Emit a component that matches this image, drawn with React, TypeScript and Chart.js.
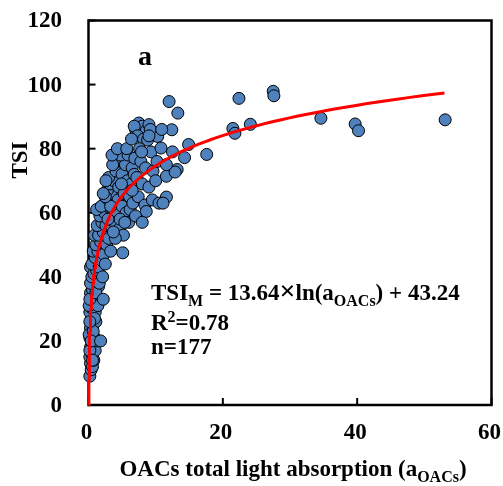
import React, { useEffect, useRef } from "react";
import { Chart, registerables } from "chart.js";

Chart.register(...registerables);

// Observed samples: [aOACs, TSI]
const pointsX: number[] = [
  0.2, 0.4, 0.3, 0.6, 0.2, 0.5, 0.8, 0.3, 0.6, 1.0, 0.2, 0.5, 0.9, 1.3, 0.3, 0.7, 0.4, 1.1, 0.2, 0.6,
  1.0, 0.4, 0.8, 0.3, 1.2, 0.6, 0.9, 0.3, 1.5, 0.5, 0.1, 0.1, 0.2, 0.7, 1.4, 0.4, 0.9, 0.2, 0.6, 1.8,
  0.3, 0.2, 1.1, 2.2,
  0.8, 1.2, 0.5, 1.6, 1.0, 2.0, 0.7, 1.4, 2.3, 1.1, 1.8, 2.7, 0.9, 1.5, 2.2, 3.0, 1.3, 2.0, 2.6, 1.7,
  2.4, 3.2, 1.2, 2.8, 1.9, 3.5, 2.5, 1.6, 2.1, 3.3,
  3.0, 3.6, 4.2, 3.9, 4.6, 5.2, 4.0, 3.4, 4.4, 5.0, 5.6, 6.0, 2.8, 3.2, 3.8, 4.5, 5.3, 6.1, 3.0, 4.1,
  5.0, 5.8, 6.4, 4.2, 5.5, 3.6, 4.8, 5.9, 6.5, 3.3, 4.7, 5.4, 6.2, 2.9, 2.5, 4.9, 3.7, 6.6, 5.1, 2.6,
  3.5, 4.3, 5.7, 2.2, 6.8,
  7.0, 7.5, 8.0, 8.6, 9.0, 6.8, 7.3, 8.2, 8.8, 6.4, 7.6, 9.3, 10.3, 10.8, 6.9, 7.8, 8.5, 9.6, 10.2, 7.2,
  8.0, 9.0, 10.0, 7.4, 8.4, 8.6, 9.5, 10.5, 7.0, 8.0, 6.5, 9.2, 9.0, 7.9,
  11.6, 11.6, 11.1, 12.0, 13.3, 12.4, 14.9, 14.3, 13.2, 12.9, 11.6, 12.5, 10.9,
  17.6, 22.4, 21.5, 21.8, 24.1, 27.5, 27.6, 34.6, 39.7, 40.2, 53.1,
];
const pointsY: number[] = [
  9, 11, 13, 12, 15, 16, 14, 18, 19, 17, 21, 22, 21, 20, 24, 25, 27, 26, 29, 30,
  29, 32, 33, 35, 34, 36, 38, 38, 37, 40, 31, 22, 17, 23, 31, 20, 27, 33, 14, 20,
  43, 26, 35, 33,
  41, 42, 44, 43, 46, 45, 48, 48, 47, 50, 51, 50, 53, 53, 54, 52, 56, 57, 56, 59,
  60, 58, 61, 62, 62, 55, 44, 38, 40, 48,
  64, 61, 60, 57, 55, 53, 52, 66, 64, 62, 60, 57, 67, 69, 70, 68, 66, 65, 71, 73,
  72, 70, 69, 76, 75, 75, 78, 78, 74, 62, 58, 57, 61, 58, 65, 69, 54, 63, 47.5, 70,
  78, 80, 80, 66, 72,
  86, 88, 87, 85.6, 87.5, 87, 84, 83, 82.7, 83, 80, 79, 83.8, 80.2, 77, 76, 74, 73, 76, 71,
  69, 68, 70, 65, 62.4, 60.4, 64, 63, 59, 57, 67, 86, 84, 79,
  71.4, 64.9, 63, 94.7, 91.1, 85.9, 81.3, 77.2, 73.5, 72.7, 75, 79, 86,
  78.2, 95.7, 86.3, 84.8, 87.6, 97.9, 96.5, 89.5, 87.7, 85.6, 89.0,
];

// Fitted model TSI = A * ln(a) + B (from the chart's equation)
const fitA = 13.64;
const fitB = 43.24;
const fitXMax = 53;

const xTicks = [0, 20, 40, 60];
const yTicks = [0, 20, 40, 60, 80, 100, 120];

const FONT = "'Liberation Serif', 'Times New Roman', serif";
const SIZE = 23;

type Part = { t: string; sub?: boolean; sup?: boolean; size?: number };

function drawRich(ctx: CanvasRenderingContext2D, x: number, y: number, parts: Part[], size: number, align: "left" | "center" = "left") {
  const small = Math.round(size * 0.7);
  const sz = (p: Part) => p.size ?? (p.sub || p.sup ? small : size);
  const widthOf = (p: Part) => {
    ctx.font = `bold ${sz(p)}px ${FONT}`;
    return ctx.measureText(p.t).width;
  };
  let total = 0;
  parts.forEach((p) => (total += widthOf(p)));
  let cx = align === "center" ? x - total / 2 : x;
  ctx.textAlign = "left";
  ctx.textBaseline = "alphabetic";
  ctx.fillStyle = "#000";
  parts.forEach((p) => {
    const w = widthOf(p);
    ctx.font = `bold ${sz(p)}px ${FONT}`;
    const dy = p.sub ? size * 0.25 : p.sup ? -size * 0.35 : 0;
    ctx.fillText(p.t, cx, y + dy);
    cx += w;
  });
}

const framePlugin = {
  id: "frame",
  beforeDatasetsDraw(chart: any) {
    const { ctx, chartArea } = chart;
    const { left, right, top, bottom } = chartArea;
    ctx.save();
    ctx.strokeStyle = "#000";
    ctx.lineWidth = 2.5;
    ctx.strokeRect(left, top, right - left, bottom - top);
    ctx.lineWidth = 2;
    const xs = chart.scales.x;
    const ys = chart.scales.y;
    ctx.fillStyle = "#000";
    ctx.font = `bold ${SIZE}px ${FONT}`;
    xTicks.forEach((v) => {
      const px = xs.getPixelForValue(v);
      ctx.beginPath();
      ctx.moveTo(px, bottom);
      ctx.lineTo(px, bottom - 7);
      ctx.stroke();
      ctx.textAlign = "center";
      ctx.textBaseline = "middle";
      ctx.fillText(String(v), px - 2, 433);
    });
    yTicks.forEach((v) => {
      const py = ys.getPixelForValue(v);
      ctx.beginPath();
      ctx.moveTo(left, py);
      ctx.lineTo(left + 7, py);
      ctx.stroke();
      ctx.textAlign = "right";
      ctx.textBaseline = "middle";
      ctx.fillText(String(v), 62, py + 1);
    });
    ctx.restore();
  },
  afterDraw(chart: any) {
    const { ctx } = chart;
    ctx.save();
    // panel label
    ctx.fillStyle = "#000";
    ctx.font = `bold 28px ${FONT}`;
    ctx.textAlign = "left";
    ctx.textBaseline = "alphabetic";
    ctx.fillText("a", 138, 65);
    // equation
    drawRich(ctx, 151, 300, [
      { t: "TSI" }, { t: "M", sub: true }, { t: " = 13.64" }, { t: "×", size: 28 }, { t: "ln(a" }, { t: "OACs", sub: true }, { t: ") + 43.24" },
    ], SIZE);
    drawRich(ctx, 151, 330, [{ t: "R" }, { t: "2", sup: true }, { t: "=0.78" }], SIZE);
    drawRich(ctx, 151, 354, [{ t: "n=177" }], SIZE);
    // x title
    drawRich(ctx, 293, 476, [{ t: "OACs total light absorption (a" }, { t: "OACs", sub: true }, { t: ")" }], SIZE, "center");
    // y title
    ctx.translate(27, 160);
    ctx.rotate(-Math.PI / 2);
    ctx.font = `bold ${SIZE}px ${FONT}`;
    ctx.textAlign = "center";
    ctx.textBaseline = "alphabetic";
    ctx.fillText("TSI", 0, 0);
    ctx.restore();
  },
};

export default function App() {
  const ref = useRef<HTMLCanvasElement | null>(null);
  useEffect(() => {
    if (!ref.current) return;
    const scatter = pointsX.map((x, i) => ({ x, y: pointsY[i] }));
    const x0 = Math.exp(-fitB / fitA);
    const curve: { x: number; y: number }[] = [];
    const n = 200;
    for (let i = 0; i <= n; i++) {
      const x = x0 * Math.pow(fitXMax / x0, i / n);
      curve.push({ x, y: fitA * Math.log(x) + fitB });
    }
    const chart = new Chart(ref.current, {
      type: "scatter",
      data: {
        datasets: [
          {
            type: "line",
            data: curve,
            borderColor: "#ff0000",
            borderWidth: 3,
            pointRadius: 0,
            fill: false,
            tension: 0,
            order: 0,
            clip: false,
          } as any,
          {
            data: scatter,
            backgroundColor: "#4f81bd",
            borderColor: "#000",
            borderWidth: 1,
            pointRadius: 6,
            order: 1,
            clip: false,
          },
        ],
      },
      options: {
        animation: false,
        responsive: false,
        devicePixelRatio: 1,
        layout: { padding: { left: 0, right: 11.5, top: 20.5, bottom: 0 } },
        plugins: { legend: { display: false }, tooltip: { enabled: false } },
        scales: {
          x: {
            type: "linear",
            min: 0,
            max: 60,
            afterFit: (s: any) => { s.height = 81; },
            grid: { display: false, drawTicks: false },
            border: { display: false },
            ticks: { display: false },
          },
          y: {
            type: "linear",
            min: 0,
            max: 120,
            afterFit: (s: any) => { s.width = 88.5; },
            grid: { display: false, drawTicks: false },
            border: { display: false },
            ticks: { display: false },
          },
        },
      },
      plugins: [framePlugin],
    });
    return () => chart.destroy();
  }, []);
  return (
    <div style={{ position: "absolute", left: 0, top: 0, width: 503, height: 486, background: "#fff" }}>
      <canvas ref={ref} width={503} height={486} style={{ width: 503, height: 486 }} />
    </div>
  );
}
